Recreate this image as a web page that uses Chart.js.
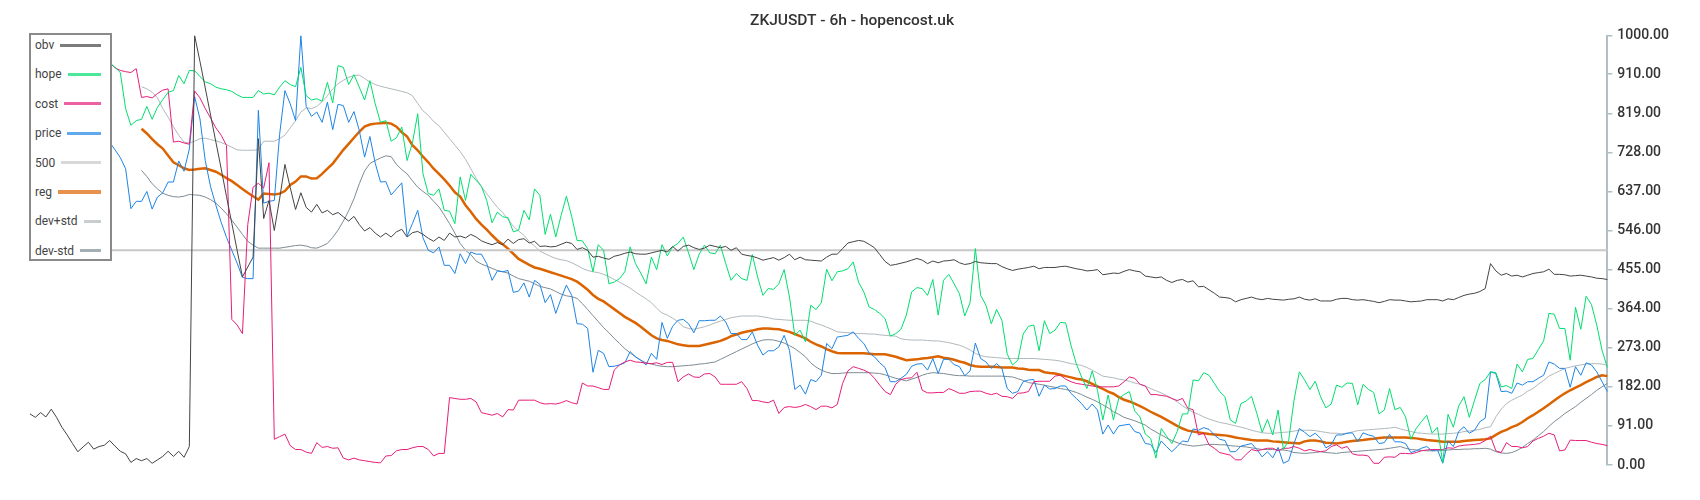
<!DOCTYPE html>
<html>
<head>
<meta charset="utf-8">
<script src="https://cdn.jsdelivr.net/npm/chart.js@4.4.1/dist/chart.umd.min.js"></script>
<style>
  html, body { margin: 0; padding: 0; background: #fff; }
  #wrap { position: relative; width: 1700px; height: 500px; }
  #legend {
    position: absolute; left: 29px; top: 33px; width: 83px; height: 228px;
    box-sizing: border-box; border: 2px solid #8a8a8a; background: #fff;
    padding: 0 9px 0 4px; font: 12px Roboto, sans-serif; color: #444;
  }
  #legend .item { display: flex; align-items: center; height: 20px; margin-top: 9.4px; }
  #legend .item:first-child { margin-top: 0; }
  #legend .swatch { flex: 1; margin-left: 6px; opacity: 0.7; }
</style>
</head>
<body>
<div id="wrap">
  <canvas id="chart" width="1700" height="500"></canvas>
  <div id="legend"></div>
</div>
<script>
// ZKJUSDT 6h, values
const title = 'ZKJUSDT - 6h - hopencost.uk';
const yTicks = [0, 91, 182, 273, 364, 455, 546, 637, 728, 819, 910, 1000];
const level500 = 500;

const obv = [
  119, 111, 122, 112, 130, 111, 88, 70, 50, 31,
  42, 53, 37, 43, 46, 57, 44, 32, 26, 6,
  15, 10, 15, 4, 12, 20, 32, 20, 32, 18,
  43, 1000, 940, 878, 815, 752, 690, 625, 563, 500,
  438, 461, 484, 760, 574, 616, 546, 620, 700, 646,
  595, 634, 600, 589, 607, 587, 593, 583, 588, 578,
  568, 579, 560, 545, 553, 540, 531, 540, 531, 543,
  549, 531, 541, 544, 537, 528, 521, 531, 523, 540,
  531, 533, 529, 537, 531, 522, 517, 513, 518, 513,
  526, 516, 525, 527, 517, 521, 509, 510, 508, 509,
  514, 519, 516, 502, 506, 500, 484, 486, 482, 479,
  486, 489, 493, 496, 492, 491, 491, 494, 497, 500,
  496, 509, 498, 509, 512, 506, 502, 505, 512, 509,
  506, 509, 500, 506, 491, 488, 486, 482, 477, 480,
  483, 477, 483, 491, 478, 484, 478, 477, 476, 475,
  484, 491, 491, 504, 517, 520, 523, 521, 514, 506,
  490, 474, 465, 467, 470, 473, 477, 481, 477, 469,
  475, 471, 475, 476, 478, 471, 467, 469, 474, 471,
  470, 469, 469, 462, 457, 453, 456, 458, 460, 463,
  457, 460, 460, 460, 462, 463, 460, 457, 455, 452,
  453, 455, 443, 445, 447, 446, 451, 455, 452, 450,
  440, 438, 436, 438, 430, 425, 430, 432, 426, 429,
  415, 416, 408, 400, 391, 390, 388, 380, 385, 388,
  391, 387, 385, 388, 386, 385, 384, 386, 387, 391,
  386, 384, 387, 382, 382, 382, 386, 388, 388, 385,
  384, 385, 383, 381, 378, 381, 385, 384, 384, 382,
  380, 381, 382, 385, 385, 385, 382, 387, 385, 390,
  395, 398, 400, 404, 411, 469, 452, 442, 446, 440,
  442, 438, 442, 446, 448, 450, 456, 444, 444, 443,
  440, 441, 442, 440, 438, 435, 434, 432
];

const hope = [
  950, 945, 940, 948, 955, 945, 940, 935, 940, 945,
  938, 942, 936, 940, 938, 937, 926, 914, 830, 791,
  802, 805, 835, 805, 833, 851, 868, 872, 907, 888,
  919, 918, 905, 892, 888, 880, 876, 874, 870, 862,
  856, 856, 856, 872, 864, 866, 862, 880, 895, 886,
  881, 926, 860, 850, 853, 847, 891, 843, 930, 926,
  886, 909, 880, 850, 895, 841, 798, 802, 754, 762,
  787, 709, 750, 818, 678, 632, 628, 643, 593, 591,
  562, 671, 616, 677, 663, 649, 616, 564, 589, 578,
  576, 543, 547, 593, 571, 643, 628, 537, 584, 531,
  581, 626, 578, 523, 522, 504, 450, 513, 500, 422,
  426, 434, 450, 508, 469, 447, 422, 484, 455, 513,
  487, 508, 516, 531, 494, 455, 491, 512, 494, 492,
  512, 469, 430, 446, 434, 430, 490, 438, 395, 411,
  409, 422, 455, 391, 302, 314, 287, 372, 362, 378,
  456, 429, 450, 452, 457, 473, 426, 403, 368, 362,
  353, 341, 300, 306, 316, 349, 403, 413, 411, 395,
  432, 349, 430, 444, 422, 399, 347, 378, 504, 395,
  372, 329, 362, 337, 258, 233, 244, 305, 323, 326,
  266, 336, 306, 314, 332, 331, 279, 236, 205, 178,
  219, 174, 105, 163, 105, 155, 164, 171, 126, 112,
  72, 62, 16, 85, 67, 50, 78, 119, 119, 198,
  196, 215, 209, 190, 171, 159, 105, 97, 143, 149,
  160, 120, 76, 106, 70, 128, 36, 58, 151, 217,
  198, 176, 195, 159, 133, 142, 186, 181, 191, 190,
  140, 188, 176, 169, 119, 128, 178, 129, 134, 112,
  60, 85, 101, 116, 74, 88, 5, 118, 88, 137,
  159, 111, 151, 190, 199, 217, 215, 182, 185, 178,
  235, 217, 246, 248, 269, 289, 353, 351, 318, 318,
  244, 367, 316, 393, 374, 326, 267, 227
];

const cost = [
  930, 935, 928, 925, 932, 930, 926, 934, 930, 928,
  925, 930, 935, 932, 936, 937, 925, 919, 916, 914,
  923, 856, 858, 855, 865, 873, 876, 752, 754, 750,
  747, 871, 855, 830, 808, 785, 768, 744, 339, 326,
  306, 560, 647, 656, 645, 704, 60, 66, 72, 45,
  36, 36, 30, 27, 52, 41, 43, 39, 40, 16,
  12, 16, 12, 10, 8, 6, 5, 21, 22, 33,
  36, 36, 40, 43, 43, 36, 21, 27, 27, 157,
  155, 153, 153, 155, 147, 122, 119, 116, 120, 112,
  129, 128, 151, 151, 151, 151, 145, 142, 143, 142,
  145, 150, 145, 142, 191, 184, 184, 180, 176, 176,
  221, 233, 240, 244, 240, 239, 237, 236, 238, 234,
  239, 239, 194, 205, 212, 205, 204, 212, 213, 205,
  188, 188, 188, 188, 194, 178, 150, 150, 147, 145,
  151, 120, 134, 136, 134, 136, 141, 136, 129, 137,
  137, 133, 141, 190, 219, 229, 225, 221, 215, 202,
  186, 171, 164, 188, 199, 202, 203, 216, 174, 168,
  168, 169, 169, 178, 173, 167, 167, 171, 172, 172,
  167, 164, 167, 160, 159, 155, 167, 168, 171, 194,
  195, 195, 195, 207, 209, 200, 194, 190, 188, 186,
  184, 182, 182, 182, 182, 184, 194, 205, 202, 188,
  184, 164, 164, 162, 160, 155, 150, 155, 132, 129,
  70, 74, 47, 39, 29, 26, 23, 12, 12, 25,
  36, 33, 36, 39, 39, 33, 39, 39, 43, 39,
  33, 36, 33, 31, 33, 43, 47, 39, 43, 26,
  23, 23, 21, 4, 4, 18, 19, 18, 27, 27,
  26, 29, 33, 35, 36, 36, 36, 40, 39, 44,
  46, 47, 48, 50, 57, 67, 33, 29, 52, 43,
  43, 40, 43, 56, 62, 67, 74, 70, 33, 35,
  58, 57, 57, 57, 53, 50, 48, 45
];

const price = [
  760, 770, 780, 775, 790, 800, 785, 770, 780, 790,
  775, 765, 770, 760, 755, 752, 734, 716, 690, 597,
  614, 614, 637, 596, 624, 634, 659, 659, 708, 684,
  736, 858, 806, 709, 648, 605, 565, 530, 500, 470,
  437, 434, 434, 826, 610, 614, 616, 770, 872, 841,
  802, 1000, 835, 812, 822, 798, 845, 781, 840, 837,
  798, 823, 779, 717, 765, 703, 659, 660, 629, 643,
  657, 533, 562, 593, 529, 500, 494, 508, 465, 465,
  446, 492, 469, 496, 491, 491, 469, 430, 452, 450,
  453, 402, 405, 424, 391, 430, 421, 378, 397, 353,
  388, 419, 395, 329, 328, 318, 216, 267, 260, 229,
  230, 233, 238, 264, 252, 244, 233, 260, 246, 332,
  295, 323, 337, 339, 329, 308, 336, 336, 337, 337,
  347, 333, 306, 306, 292, 292, 310, 279, 256, 266,
  266, 275, 302, 267, 176, 186, 165, 199, 194, 209,
  283, 271, 298, 300, 302, 310, 295, 283, 261, 252,
  238, 227, 194, 194, 202, 211, 230, 235, 236, 221,
  248, 213, 246, 246, 234, 229, 208, 219, 284, 248,
  240, 225, 236, 225, 178, 167, 171, 194, 198, 199,
  160, 186, 177, 178, 184, 184, 167, 155, 143, 128,
  142, 128, 72, 93, 72, 91, 93, 95, 78, 74,
  50, 48, 29, 56, 43, 31, 43, 56, 54, 84,
  81, 87, 83, 70, 60, 57, 31, 31, 44, 47,
  50, 36, 19, 31, 17, 41, 4, 10, 50, 85,
  76, 66, 74, 62, 40, 47, 70, 70, 74, 75,
  54, 75, 70, 67, 50, 52, 71, 54, 54, 50,
  29, 33, 39, 43, 33, 36, 4, 56, 43, 78,
  89, 74, 81, 101, 109, 217, 213, 171, 172, 167,
  191, 186, 194, 194, 202, 209, 240, 235, 225, 225,
  181, 229, 209, 238, 233, 217, 194, 171
];

const reg = [
  null, null, null, null, null, null, null, null, null, null,
  null, null, null, null, null, null, null, null, null, null,
  null, 783, 772, 759, 747, 737, 721, 705, 698, 691,
  687, 688, 690, 691, 687, 683, 676, 668, 661, 652,
  643, 634, 626, 618, 632, 631, 630, 632, 638, 652,
  660, 672, 672, 667, 668, 678, 690, 702, 718, 734,
  748, 762, 776, 788, 793, 795, 796, 797, 795, 788,
  775, 765, 745, 733, 718, 705, 690, 678, 665, 651,
  635, 625, 605, 590, 573, 560, 548, 535, 523, 514,
  504, 492, 480, 473, 466, 460, 457, 453, 449, 445,
  441, 437, 433, 427, 418, 408, 396, 387, 381, 372,
  363, 354, 345, 338, 331, 322, 312, 302, 295, 291,
  289, 285, 281, 279, 277, 277, 277, 280, 283, 286,
  289, 294, 300, 304, 308, 311, 313, 316, 318, 318,
  317, 316, 313, 310, 305, 300, 295, 287, 281, 276,
  270, 265, 261, 260, 260, 260, 260, 260, 259, 258,
  258, 258, 255, 252, 248, 244, 245, 246, 248, 249,
  251, 253, 250, 248, 245, 241, 238, 233, 230, 229,
  229, 229, 228, 227, 227, 227, 225, 224, 222, 221,
  221, 216, 214, 213, 210, 207, 204, 201, 199, 195,
  189, 183, 177, 171, 166, 158, 152, 148, 143, 137,
  131, 124, 118, 112, 105, 98, 91, 85, 80, 78,
  76, 74, 72, 71, 70, 69, 67, 64, 62, 60,
  58, 57, 57, 57, 55, 54, 53, 52, 51, 50,
  55, 57, 57, 55, 52, 51, 50, 52, 54, 56,
  57, 58, 60, 61, 63, 64, 64, 64, 64, 64,
  63, 62, 60, 58, 57, 56, 54, 54, 54, 54,
  56, 57, 58, 59, 60, 62, 70, 77, 82, 88,
  93, 100, 109, 116, 124, 132, 141, 150, 159, 167,
  174, 180, 186, 193, 199, 205, 209, 207
];

const devPlus = [
  null, null, null, null, null, null, null, null, null, null,
  null, null, null, null, null, null, null, null, null, null,
  null, 881, 876, 868, 855, 830, 810, 788, 768, 752,
  750, 754, 760, 761, 758, 755, 751, 746, 740, 734,
  733, 733, 733, 734, 754, 754, 754, 760, 768, 785,
  802, 822, 832, 830, 835, 846, 860, 876, 888, 896,
  903, 907, 908, 900, 892, 886, 882, 879, 876, 873,
  870, 867, 860, 842, 825, 814, 800, 790, 775, 760,
  745, 730, 712, 690, 668, 648, 632, 616, 600, 588,
  572, 556, 545, 535, 520, 510, 498, 492, 486, 481,
  478, 476, 471, 465, 458, 453, 450, 448, 444, 439,
  432, 426, 419, 412, 403, 395, 387, 378, 365, 354,
  349, 342, 334, 322, 318, 316, 319, 322, 326, 331,
  335, 339, 343, 345, 347, 347, 347, 347, 345, 343,
  340, 339, 338, 337, 337, 337, 337, 335, 330, 326,
  321, 316, 310, 309, 308, 307, 306, 306, 305, 305,
  303, 302, 301, 300, 294, 292, 291, 291, 291, 290,
  289, 289, 287, 285, 282, 279, 274, 268, 260, 255,
  252, 251, 250, 249, 248, 248, 248, 248, 248, 248,
  247, 246, 245, 244, 242, 239, 236, 234, 232, 227,
  221, 214, 207, 205, 203, 200, 198, 195, 191, 188,
  184, 178, 173, 168, 162, 155, 147, 138, 130, 123,
  118, 112, 107, 103, 99, 97, 94, 91, 88, 85,
  81, 78, 75, 74, 74, 75, 76, 77, 79, 81,
  81, 81, 80, 78, 76, 74, 74, 73, 74, 77,
  80, 81, 82, 83, 84, 85, 86, 88, 84, 81,
  78, 75, 74, 73, 72, 72, 72, 73, 74, 75,
  78, 79, 81, 83, 87, 89, 112, 130, 143, 151,
  157, 163, 172, 178, 188, 197, 207, 213, 219, 225,
  228, 231, 233, 235, 236, 236, 235, 232
];

const devMinus = [
  null, null, null, null, null, null, null, null, null, null,
  null, null, null, null, null, null, null, null, null, null,
  null, 686, 672, 655, 643, 633, 628, 625, 624, 626,
  630, 629, 628, 624, 618, 610, 598, 585, 570, 554,
  537, 521, 512, 505, 505, 505, 505, 505, 507, 509,
  511, 512, 510, 506, 505, 510, 516, 530, 547, 568,
  592, 620, 655, 685, 702, 709, 715, 720, 718, 700,
  688, 678, 662, 647, 637, 628, 614, 601, 582, 562,
  540, 516, 500, 490, 475, 468, 463, 458, 453, 450,
  447, 440, 434, 431, 428, 422, 416, 413, 410, 404,
  398, 394, 392, 388, 376, 362, 348, 334, 320, 308,
  295, 283, 271, 261, 252, 244, 238, 235, 232, 230,
  229, 229, 230, 231, 232, 233, 235, 236, 238, 240,
  246, 252, 258, 264, 270, 276, 282, 287, 291, 292,
  291, 288, 284, 278, 271, 262, 252, 238, 228, 221,
  216, 213, 213, 214, 215, 215, 215, 215, 215, 214,
  213, 210, 206, 202, 199, 196, 200, 204, 209, 213,
  215, 214, 213, 211, 209, 208, 208, 207, 207, 207,
  207, 207, 207, 207, 206, 205, 201, 197, 192, 190,
  188, 186, 183, 181, 178, 176, 173, 169, 164, 158,
  153, 147, 140, 133, 124, 118, 111, 107, 103, 98,
  93, 84, 77, 70, 63, 57, 52, 48, 46, 44,
  45, 47, 48, 48, 47, 47, 45, 44, 43, 42,
  40, 38, 36, 36, 36, 35, 35, 33, 29, 28,
  27, 28, 29, 31, 29, 28, 27, 29, 30, 31,
  32, 33, 34, 35, 36, 37, 39, 41, 43, 39,
  36, 35, 34, 33, 33, 33, 34, 35, 36, 36,
  37, 37, 38, 38, 39, 37, 31, 28, 27, 29,
  34, 41, 50, 58, 68, 78, 90, 101, 110, 120,
  128, 136, 146, 155, 164, 174, 182, 190
];

const labels = obv.map((_, i) => i);

function line(label, data, color, width) {
  return {
    label: label,
    data: data,
    borderColor: color,
    backgroundColor: color,
    borderWidth: width,
    pointRadius: 0,
    tension: 0,
    fill: false
  };
}

const chart = new Chart(document.getElementById('chart'), {
  type: 'line',
  data: {
    labels: labels,
    datasets: [
      line('obv', obv, '#444444', 1),
      line('hope', hope, 'rgb(0, 222, 110)', 1),
      line('cost', cost, 'rgb(230, 30, 122)', 1),
      line('price', price, 'rgb(30, 132, 228)', 1),
      line('500', labels.map(() => level500), 'rgb(200, 200, 200)', 2),
      line('reg', reg, 'rgb(220, 100, 0)', 2.5),
      line('dev+std', devPlus, 'rgb(176, 184, 188)', 1),
      line('dev-std', devMinus, 'rgb(125, 139, 147)', 1)
    ]
  },
  options: {
    responsive: false,
    devicePixelRatio: 1,
    animation: false,
    layout: { padding: { left: 30, right: 26, top: 0, bottom: 35 } },
    plugins: {
      legend: { display: false },
      tooltip: { enabled: false },
      title: {
        display: true,
        text: title,
        color: '#333',
        font: { family: 'Roboto', size: 15.5, weight: '500' },
        padding: { top: 12, bottom: 5 }
      }
    },
    scales: {
      x: { type: 'category', display: false },
      y: {
        position: 'right',
        min: 0,
        max: 1000,
        afterBuildTicks: function(scale) {
          scale.ticks = yTicks.map(function(v) { return { value: v }; });
        },
        ticks: {
          color: '#333',
          padding: 5,
          font: { family: 'Roboto', size: 14, weight: '500' },
          callback: function(value) { return Number(value).toFixed(2); }
        },
        grid: { drawOnChartArea: false, drawTicks: true, tickLength: 5, color: '#b0bec5', lineWidth: 1.5 },
        border: { display: true, color: '#b0bec5', width: 2 }
      }
    }
  }
});

// html legend: label text first, line sample after it
const legendBox = document.getElementById('legend');
chart.data.datasets.forEach(function(ds) {
  const item = document.createElement('div');
  item.className = 'item';
  const text = document.createElement('span');
  text.textContent = ds.label;
  const swatch = document.createElement('span');
  swatch.className = 'swatch';
  swatch.style.height = (ds.borderWidth > 2 ? 4 : 3) + 'px';
  swatch.style.background = ds.borderColor;
  item.appendChild(text);
  item.appendChild(swatch);
  legendBox.appendChild(item);
});
</script>
</body>
</html>
